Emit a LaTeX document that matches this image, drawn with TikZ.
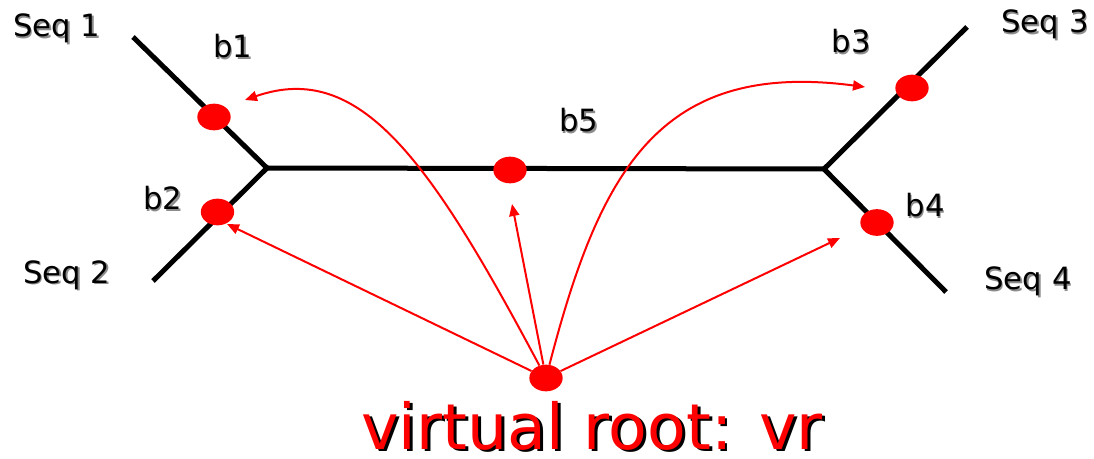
\documentclass[tikz,border=0pt]{standalone}
\usepackage{fontspec}
\setmainfont{DejaVu Sans}
\usetikzlibrary{arrows.meta,shapes.geometric}
\newcommand{\shtext}[3]{\makebox[0pt][l]{\hspace{#3}\raisebox{-#3}{\color{#2}#1}}#1}
\begin{document}
\begin{tikzpicture}[x=0.75pt,y=-0.75pt,
  branch/.style={line width=3.75pt, line cap=butt},
  bnode/.style={ellipse, fill=red, minimum width=25pt, minimum height=20pt, inner sep=0pt},
  lbl/.style={font=\fontsize{23}{27}\selectfont, inner sep=0pt, anchor=base},
  arr/.style={red, line width=1.5pt, -{Triangle[length=9pt,width=7.5pt]}}]
\useasboundingbox (0,0) rectangle (1094,459);
% tree branches
\coordinate (s1) at (133,37);
\coordinate (s2) at (153,281);
\coordinate (jl) at (267,168);
\coordinate (jr) at (824,169);
\coordinate (s3) at (967,27);
\coordinate (s4) at (946,292);
\draw[branch] (s1) -- (jl);
\draw[branch] (s2) -- (jl);
\draw[branch] (jl) -- (jr);
\draw[branch] (s3) -- (jr);
\draw[branch] (s4) -- (jr);
% branch markers
\node[bnode] (b1) at (214,117) {};
\node[bnode] (b2) at (217.5,212) {};
\node[bnode] (b5) at (510,170) {};
\node[bnode] (b3) at (912,88) {};
\node[bnode] (b4) at (877,222.5) {};
\node[bnode] (vr) at (546,378) {};
% labels
\node[lbl] (lseq1) at (57,37) {\shtext{Seq 1}{black!45}{1pt}};
\node[lbl] (lb1) at (233,58) {\shtext{b1}{black!45}{1pt}};
\node[lbl] (lb2) at (163,210) {\shtext{b2}{black!45}{1pt}};
\node[lbl] (lseq2) at (67,283) {\shtext{Seq 2}{black!45}{1pt}};
\node[lbl] (lb5) at (579,132) {\shtext{b5}{black!45}{1pt}};
\node[lbl] (lb3) at (851,53) {\shtext{b3}{black!45}{1pt}};
\node[lbl] (lseq3) at (1045,33) {\shtext{Seq 3}{black!45}{1pt}};
\node[lbl] (lb4) at (925,217) {\shtext{b4}{black!45}{1pt}};
\node[lbl] (lseq4) at (1028,290) {\shtext{Seq 4}{black!45}{1pt}};
\node[lbl, text=red, font=\fontsize{47.5}{55}\selectfont] (title) at (592,449) {\shtext{virtual root: vr}{black}{2.2pt}};
% arrow tips
\coordinate (t1) at (245,100);
\coordinate (t2) at (227,224);
\coordinate (t5) at (512,204);
\coordinate (t3) at (865,87);
\coordinate (t4) at (840,238);
\draw[arr] (vr) -- (t2);
\draw[arr] (vr) -- (t5);
\draw[arr] (vr) -- (t4);
\draw[arr] (vr) .. controls (430,160) and (360,60) .. (t1);
\draw[arr] (vr) .. controls (600,170) and (660,60) .. (t3);
\end{tikzpicture}
\end{document}
